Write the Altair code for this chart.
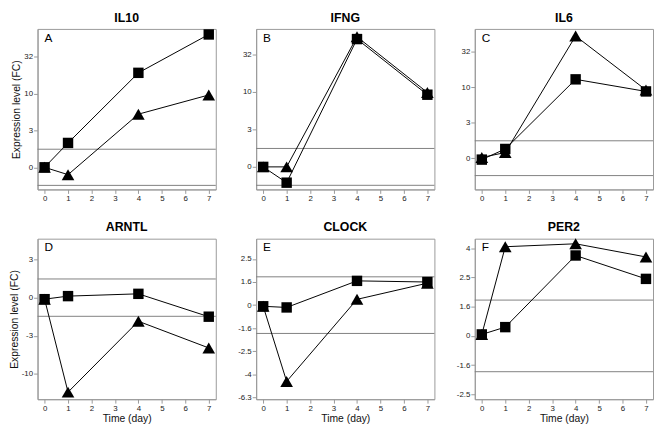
import altair as alt
import pandas as pd

# ---- data (signed log10 fold change) ----
days = [0, 1, 4, 7]
genes = ["IL10", "IFNG", "IL6", "ARNTL", "CLOCK", "PER2"]
letters = ["A", "B", "C", "D", "E", "F"]

il10_square = [0.0, 0.33, 1.28, 1.80]
il10_triangle = [0.0, -0.10, 0.72, 0.98]
ifng_square = [0.0, -0.21, 1.70, 0.96]
ifng_triangle = [0.0, 0.0, 1.73, 0.99]
il6_square = [-0.02, 0.13, 1.11, 0.94]
il6_triangle = [0.01, 0.08, 1.72, 0.96]
arntl_square = [-0.02, 0.02, 0.05, -0.25]
arntl_triangle = [-0.02, -1.24, -0.31, -0.66]
clock_square = [-0.01, -0.02, 0.21, 0.20]
clock_triangle = [-0.01, -0.66, 0.05, 0.19]
per2_square = [0.01, 0.06, 0.55, 0.39]
per2_triangle = [0.01, 0.61, 0.63, 0.54]

squares = [il10_square, ifng_square, il6_square, arntl_square, clock_square, per2_square]
triangles = [il10_triangle, ifng_triangle, il6_triangle, arntl_triangle, clock_triangle, per2_triangle]

threshold = [0.245, -0.245]

ticks_top = [0, 0.5, 1.0, 1.5]
labels_top = ["0", "3", "10", "32"]
ticks_arntl = [-1.0, -0.5, 0, 0.5]
labels_arntl = ["-10", "-3", "0", "3"]
ticks_clock = [-0.8, -0.6, -0.4, -0.2, 0, 0.2, 0.4]
labels_clock = ["-6.3", "-4", "-2.5", "-1.6", "0", "1.6", "2.5"]
ticks_per2 = [-0.4, -0.2, 0, 0.2, 0.4, 0.6]
labels_per2 = ["-2.5", "-1.6", "0", "1.6", "2.5", "4"]

y_ticks = [ticks_top, ticks_top, ticks_top, ticks_arntl, ticks_clock, ticks_per2]
y_labels = [labels_top, labels_top, labels_top, labels_arntl, labels_clock, labels_per2]
y_domains = [[-0.30, 1.875], [-0.30, 1.835], [-0.44, 1.82],
             [-1.333, 0.774], [-0.814, 0.575], [-0.433, 0.665]]

x_ticks = [0, 1, 2, 3, 4, 5, 6, 7]

W, H = 181, 163
FONT = "Liberation Sans"


def label_expr(vals, labs):
    expr = "''"
    for v, l in reversed(list(zip(vals, labs))):
        expr = f"abs(datum.value - ({v})) < 0.000001 ? '{l}' : ({expr})"
    return expr


def panel(i):
    left = i % 3 == 0
    bottom = i >= 3
    df = pd.DataFrame({
        "day": days * 2,
        "value": triangles[i] + squares[i],
        "series": ["triangle"] * 4 + ["square"] * 4,
    })
    x = alt.X("day:Q",
              scale=alt.Scale(domain=[-0.3, 7.3], nice=False, zero=False),
              axis=alt.Axis(values=x_ticks, title="Time (day)" if bottom else None,
                            labelFlush=False, format="d"))
    yaxis = alt.Axis(values=y_ticks[i], labelExpr=label_expr(y_ticks[i], y_labels[i]),
                     title="Expression level (FC)" if left else None)
    y = alt.Y("value:Q", scale=alt.Scale(domain=y_domains[i], nice=False, zero=False),
              axis=yaxis)

    rules = alt.Chart(pd.DataFrame({"value": threshold})).mark_rule(
        color="#808080", strokeWidth=1).encode(y=y)
    line = alt.Chart(df).mark_line(color="black", strokeWidth=1).encode(
        x=x, y=y, detail="series:N")
    pts = alt.Chart(df).mark_point(filled=True, opacity=1, color="black",
                                   strokeWidth=0).encode(
        x=x, y=y,
        shape=alt.Shape("series:N",
                        scale=alt.Scale(domain=["square", "triangle"],
                                        range=["square", "triangle-up"]),
                        legend=None),
        size=alt.Size("series:N",
                      scale=alt.Scale(domain=["square", "triangle"], range=[112, 165]),
                      legend=None))
    letter = alt.Chart(pd.DataFrame({"t": [letters[i]]})).mark_text(
        align="left", baseline="alphabetic", fontSize=12, font=FONT, color="black").encode(
        x=alt.value(7), y=alt.value(13), text="t:N")
    return alt.layer(rules, line, pts, letter).properties(
        width=W, height=H,
        title=alt.TitleParams(genes[i], fontSize=12.5, fontWeight="bold", font=FONT,
                              anchor="middle", offset=5, color="black"))


chart = alt.concat(*[panel(i) for i in range(6)], columns=3,
                   spacing={"row": 50, "column": 41}, bounds="flush").properties(
    padding={"left": 0, "top": 0, "right": 0, "bottom": 0}
).configure_axis(
    labelFont=FONT, titleFont=FONT, labelFontSize=8, titleFontSize=10.5,
    titleFontWeight="normal", domainColor="#999999", tickColor="#999999",
    labelColor="#222222", titleColor="#111111", grid=False, tickSize=4,
    labelPadding=1, titlePadding=2, labelOverlap=False
).configure_view(stroke="#999999", strokeWidth=1)

chart.save("out.html", embed_options={"renderer": "svg", "actions": False})
